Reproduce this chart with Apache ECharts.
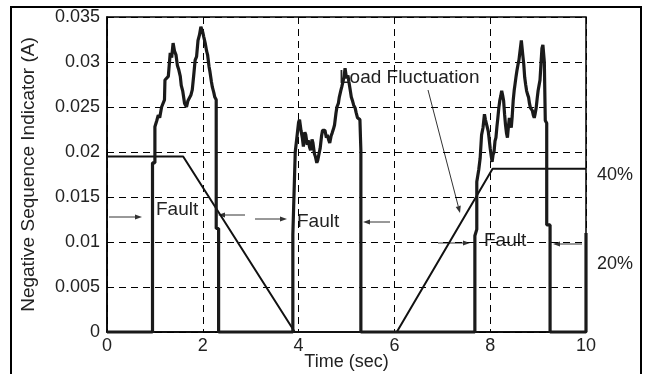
<!DOCTYPE html>
<html>
<head>
<meta charset="utf-8">
<script src="https://cdn.jsdelivr.net/npm/echarts@6/dist/echarts.min.js"></script>
<style>
  html, body { margin: 0; padding: 0; background: #fff; }
  #chart { width: 646px; height: 374px; }
</style>
</head>
<body>
<div id="chart"></div>
<script>
// ---- Data ----
const xTicks = [0, 2, 4, 6, 8, 10];
const yTicks = [0, 0.005, 0.01, 0.015, 0.02, 0.025, 0.03, 0.035];

// Load-ramp (40%) line
const rampTime  = [-0.3, 1.59, 3.92, 6.05, 8.05, 10];
const rampValue = [0.0195, 0.0195, 0, 0, 0.01815, 0.01815];

// Negative sequence indicator (noisy, thick)
const nsiTime = [
  0, 0.95, 0.95, 1.0, 1.0, 1.0, 1.04, 1.07, 1.1, 1.14, 1.17, 1.2, 1.21, 1.25, 1.28, 1.32, 1.35, 1.38, 1.41, 1.44,
  1.47, 1.5, 1.53, 1.55, 1.58, 1.62, 1.66, 1.69, 1.72, 1.75, 1.78, 1.81, 1.84, 1.87, 1.9, 1.93, 1.96, 1.98, 2.0, 2.02,
  2.05, 2.08, 2.1, 2.13, 2.15, 2.18, 2.2, 2.23, 2.25, 2.28, 2.28, 2.33, 2.33,
  3.88, 3.88, 3.92, 3.93, 3.97, 4.0, 4.02, 4.05, 4.08, 4.1, 4.13, 4.15, 4.18, 4.2, 4.23, 4.25, 4.28, 4.3, 4.33, 4.35,
  4.38, 4.4, 4.43, 4.45, 4.48, 4.5, 4.53, 4.55, 4.58, 4.6, 4.63, 4.65, 4.68, 4.7, 4.73, 4.75, 4.78, 4.8, 4.83, 4.85,
  4.88, 4.9, 4.93, 4.95, 4.97, 5.0, 5.03, 5.05, 5.08, 5.1, 5.13, 5.15, 5.18, 5.2, 5.23, 5.28, 5.3, 5.3,
  7.68, 7.68, 7.72, 7.72, 7.76, 7.79, 7.82, 7.85, 7.88, 7.9, 7.92, 7.96, 8.0, 8.02, 8.04, 8.06, 8.08, 8.1, 8.12, 8.14,
  8.16, 8.18, 8.2, 8.22, 8.24, 8.26, 8.28, 8.3, 8.32, 8.34, 8.36, 8.38, 8.4, 8.42, 8.44, 8.46, 8.48, 8.5, 8.52, 8.54,
  8.56, 8.58, 8.6, 8.62, 8.65, 8.68, 8.7, 8.72, 8.74, 8.76, 8.78, 8.8, 8.82, 8.84, 8.86, 8.88, 8.9, 8.92, 8.94, 8.96,
  8.98, 9.0, 9.02, 9.04, 9.06, 9.08, 9.1, 9.13, 9.15, 9.18, 9.18, 9.25, 9.25, 10, 10
];
const nsiValue = [
  0, 0, 0.0188, 0.0188, 0.0199, 0.0228, 0.0235, 0.0241, 0.0238, 0.025, 0.0252, 0.0258, 0.028, 0.0279, 0.0284, 0.031, 0.0305, 0.0321, 0.0312, 0.0308,
  0.0296, 0.0291, 0.0284, 0.0274, 0.0268, 0.0254, 0.025, 0.0257, 0.026, 0.0263, 0.0269, 0.0285, 0.0302, 0.0306, 0.0324, 0.033, 0.0339, 0.0336, 0.0333, 0.0328,
  0.0321, 0.0312, 0.0308, 0.0295, 0.0289, 0.0278, 0.0272, 0.0266, 0.0261, 0.0258, 0.0115, 0.0115, 0,
  0, 0.0108, 0.011, 0.02, 0.0202, 0.0233, 0.0236, 0.0224, 0.0215, 0.0206, 0.0222, 0.0219, 0.0208, 0.0213, 0.0205, 0.0202, 0.0214, 0.021, 0.0198, 0.0195,
  0.0188, 0.0191, 0.0199, 0.0204, 0.0218, 0.0224, 0.0226, 0.0224, 0.0216, 0.0219, 0.0213, 0.021, 0.0218, 0.0221, 0.0226, 0.023, 0.0243, 0.025, 0.0254, 0.0261,
  0.0268, 0.0272, 0.0279, 0.0284, 0.0293, 0.0282, 0.0285, 0.0278, 0.0268, 0.0261, 0.0256, 0.0252, 0.0249, 0.0244, 0.0238, 0.0236, 0.0202, 0,
  0, 0.0107, 0.0114, 0.0167, 0.018, 0.0193, 0.0219, 0.0227, 0.0242, 0.0236, 0.0238, 0.0223, 0.0204, 0.0196, 0.0189, 0.0197, 0.02, 0.0212, 0.0216, 0.0228,
  0.0238, 0.0249, 0.0257, 0.0262, 0.0268, 0.0263, 0.0257, 0.0242, 0.023, 0.0221, 0.0216, 0.0228, 0.0238, 0.0232, 0.0227, 0.024, 0.0257, 0.0268, 0.0276, 0.0284,
  0.0291, 0.0297, 0.0302, 0.0311, 0.0324, 0.0308, 0.0298, 0.0283, 0.0275, 0.0268, 0.0264, 0.0261, 0.0254, 0.0249, 0.025, 0.0246, 0.0241, 0.0238, 0.0243, 0.0249,
  0.0259, 0.0268, 0.0274, 0.028, 0.0298, 0.0315, 0.0319, 0.03, 0.0235, 0.0232, 0.0119, 0.0119, 0, 0, 0.011
];

// ---- Chart ----
const FONT = "'Liberation Sans', Arial, sans-serif";
const chart = echarts.init(document.getElementById('chart'), null, { renderer: 'canvas' });

function arrow(x1, y1, x2, y2) {
  const ang = Math.atan2(y2 - y1, x2 - x1);
  const L = 7, W = 2.6;
  const bx = x2 - L * Math.cos(ang), by = y2 - L * Math.sin(ang);
  const px = -Math.sin(ang) * W, py = Math.cos(ang) * W;
  return [
    { type: 'line', shape: { x1: x1, y1: y1, x2: bx, y2: by }, style: { stroke: '#333', lineWidth: 1 } },
    { type: 'polygon', shape: { points: [[x2, y2], [bx + px, by + py], [bx - px, by - py]] }, style: { fill: '#333' } }
  ];
}

function label(text, x, y, size) {
  return { type: 'text', x: x, y: y, style: { text: text, font: (size || 18) + 'px ' + FONT, fill: '#222', textVerticalAlign: 'middle' } };
}

const graphics = [
  { type: 'rect', shape: { x: 11, y: 7, width: 630, height: 380 }, style: { fill: 'none', stroke: '#000', lineWidth: 2 }, silent: true },
  label('Fault', 156, 210, 19),
  label('Fault', 297, 222, 19),
  label('Fault', 484, 241, 19),
  label('Load Fluctuation', 339, 78, 19),
  label('40%', 597, 175, 18),
  label('20%', 597, 264, 18),
  ...arrow(109, 217, 142, 217),
  ...arrow(245, 215, 218, 215),
  ...arrow(255, 219, 287, 219),
  ...arrow(390, 222, 363, 222),
  ...arrow(438, 243, 470, 243),
  ...arrow(582, 244, 553, 244),
  ...arrow(428, 90, 460, 213)
];

chart.setOption({
  animation: false,
  backgroundColor: '#fff',
  grid: {
    left: 107, right: 60, top: 17, bottom: 42, containLabel: false, outerBoundsMode: 'none',
    show: true, borderColor: '#000', borderWidth: 1.5
  },
  xAxis: {
    type: 'value', min: xTicks[0], max: xTicks[xTicks.length - 1], interval: 2,
    name: 'Time (sec)', nameLocation: 'middle', nameGap: 21, nameMoveOverlap: false,
    nameTextStyle: { fontFamily: FONT, fontSize: 18, color: '#222' },
    axisLine: { show: true, lineStyle: { color: '#000', width: 1.5 } },
    axisTick: { show: false },
    axisLabel: { fontFamily: FONT, fontSize: 18, color: '#222', margin: 5 },
    splitLine: { show: true, lineStyle: { color: '#000', type: [7, 5], width: 1 } }
  },
  yAxis: {
    type: 'value', min: yTicks[0], max: yTicks[yTicks.length - 1], interval: 0.005,
    name: 'Negative Sequence Indicator (A)', nameLocation: 'middle', nameGap: 69, nameRotate: 90, nameMoveOverlap: false,
    nameTextStyle: { fontFamily: FONT, fontSize: 19, color: '#222' },
    axisLine: { show: true, lineStyle: { color: '#000', width: 1.5 } },
    axisTick: { show: false },
    axisLabel: { fontFamily: FONT, fontSize: 18, color: '#222', margin: 7 },
    splitLine: { show: true, lineStyle: { color: '#000', type: [7, 5], width: 1 } }
  },
  graphic: graphics,
  series: [
    {
      name: '40%', type: 'line', symbol: 'none', clip: false, z: 3,
      lineStyle: { color: '#111', width: 2 },
      data: rampTime.map((t, i) => [t, rampValue[i]])
    },
    {
      name: 'Negative Sequence Indicator', type: 'line', symbol: 'none', clip: false, z: 4,
      lineStyle: { color: '#1a1a1a', width: 3.2 },
      data: nsiTime.map((t, i) => [t, nsiValue[i]])
    }
  ]
});
</script>
</body>
</html>
